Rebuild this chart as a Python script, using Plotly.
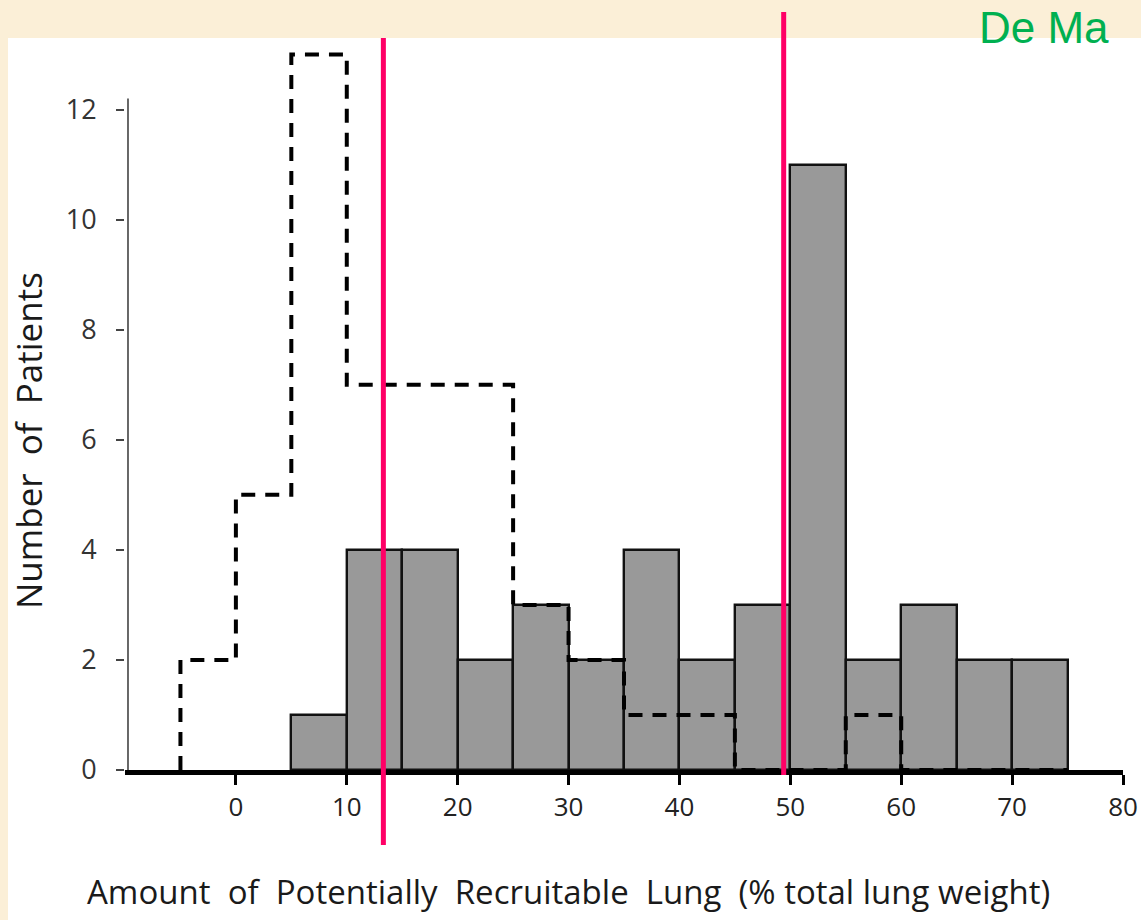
import plotly.graph_objects as go

# ---- data ----
bar_left_edges = [5, 10, 15, 20, 25, 30, 35, 40, 45, 50, 55, 60, 65, 70]
bar_counts = [1, 4, 4, 2, 3, 2, 4, 2, 3, 11, 2, 3, 2, 2]
bin_width = 5

dash_left_edges = [-5, 0, 5, 10, 15, 20, 25, 30, 35, 40, 45, 50, 55, 60, 65, 70]
dash_counts = [2, 5, 13, 7, 7, 7, 3, 2, 1, 1, 0, 0, 1, 0, 0, 0]

marker_lines_x = [13.3, 49.4]

x_ticks = [0, 10, 20, 30, 40, 50, 60, 70, 80]
y_ticks = [0, 2, 4, 6, 8, 10, 12]

x_title = "Amount\u00a0 of\u00a0 Potentially\u00a0 Recruitable\u00a0 Lung\u00a0 (% total lung weight)"
y_title = "Number\u00a0 of\u00a0 Patients"
corner_text = "De Ma"

# ---- layout constants ----
W, H = 1141, 920
ML, MR, MT, MB = 125, 18, 38, 150
XR = [-10, 80]
YR = [0, 13.3]
plot_w = W - ML - MR
plot_h = H - MT - MB

def px_to_paper_x(px):
    return (px - ML) / plot_w

def px_to_paper_y(py):
    return (H - MB - py) / plot_h

def data_to_paper_x(x):
    return (x - XR[0]) / (XR[1] - XR[0])

def data_to_paper_y(y):
    return (y - YR[0]) / (YR[1] - YR[0])

fig = go.Figure()

fig.add_trace(go.Bar(
    x=[e + bin_width / 2 for e in bar_left_edges],
    y=bar_counts,
    width=bin_width,
    marker=dict(color="#999999", line=dict(color="#111111", width=2.4)),
    showlegend=False,
    hoverinfo="skip",
))

step_x = [dash_left_edges[0]] + dash_left_edges + [dash_left_edges[-1] + bin_width]
step_y = [0] + dash_counts + [dash_counts[-1]]
fig.add_trace(go.Scatter(
    x=step_x, y=step_y, mode="lines",
    line=dict(shape="hv", color="black", width=4, dash="14px,10px"),
    showlegend=False, hoverinfo="skip",
))

shapes = []
# white panel
shapes.append(dict(type="rect", xref="paper", yref="paper",
                   x0=px_to_paper_x(8), x1=px_to_paper_x(W + 5),
                   y0=px_to_paper_y(H + 5), y1=px_to_paper_y(38),
                   fillcolor="white", line=dict(width=0), layer="below"))
# y axis line (only up to just above the 12 tick)
shapes.append(dict(type="line", xref="paper", yref="paper",
                   x0=0.003, x1=0.003, y0=data_to_paper_y(0), y1=data_to_paper_y(12.2),
                   line=dict(color="#444444", width=1.6), layer="above"))
# pink marker lines
extents = [(845, 38), (775, 12)]
for xv, (pb, pt) in zip(marker_lines_x, extents):
    shapes.append(dict(type="line", xref="paper", yref="paper",
                       x0=data_to_paper_x(xv), x1=data_to_paper_x(xv),
                       y0=px_to_paper_y(pb), y1=px_to_paper_y(pt),
                       line=dict(color="#FF0066", width=5), layer="above"))

fig.update_layout(
    width=W, height=H,
    margin=dict(l=ML, r=MR, t=MT, b=MB, autoexpand=False),
    paper_bgcolor="#FBEFD7",
    plot_bgcolor="rgba(0,0,0,0)",
    bargap=0,
    shapes=shapes,
    font=dict(family="Open Sans, sans-serif", color="#222222"),
    annotations=[
        dict(text=corner_text, xref="paper", yref="paper",
             x=px_to_paper_x(977), y=px_to_paper_y(1),
             xanchor="left", yanchor="top", showarrow=False,
             font=dict(family="Liberation Sans, Arial, sans-serif", size=44, color="#00B050")),
        dict(text=x_title, xref="paper", yref="paper",
             x=px_to_paper_x(568), y=px_to_paper_y(891),
             xanchor="center", yanchor="middle", showarrow=False,
             font=dict(family="Open Sans, sans-serif", size=33, color="#1a1a1a")),
        dict(text=y_title, xref="paper", yref="paper", textangle=-90,
             x=px_to_paper_x(28), y=px_to_paper_y(441),
             xanchor="center", yanchor="middle", showarrow=False,
             font=dict(family="Open Sans, sans-serif", size=35, color="#1a1a1a")),
    ],
    xaxis=dict(
        range=XR, tickvals=x_ticks, ticktext=[str(v) for v in x_ticks],
        showline=True, linecolor="black", linewidth=5,
        ticks="outside", ticklen=10, tickwidth=3, tickcolor="black",
        showgrid=False, zeroline=False, automargin=False,
        tickfont=dict(family="Open Sans, sans-serif", size=26, color="#222222"),
        fixedrange=True,
    ),
    yaxis=dict(
        range=YR, tickvals=y_ticks, ticktext=[str(v) for v in y_ticks],
        showline=False,
        ticks="outside", ticklen=8, tickwidth=1.6, tickcolor="#444444",
        ticklabelstandoff=14,
        showgrid=False, zeroline=False, automargin=False,
        tickfont=dict(family="Open Sans, sans-serif", size=27, color="#333333"),
        fixedrange=True,
    ),
)

fig.write_html("out.html")
